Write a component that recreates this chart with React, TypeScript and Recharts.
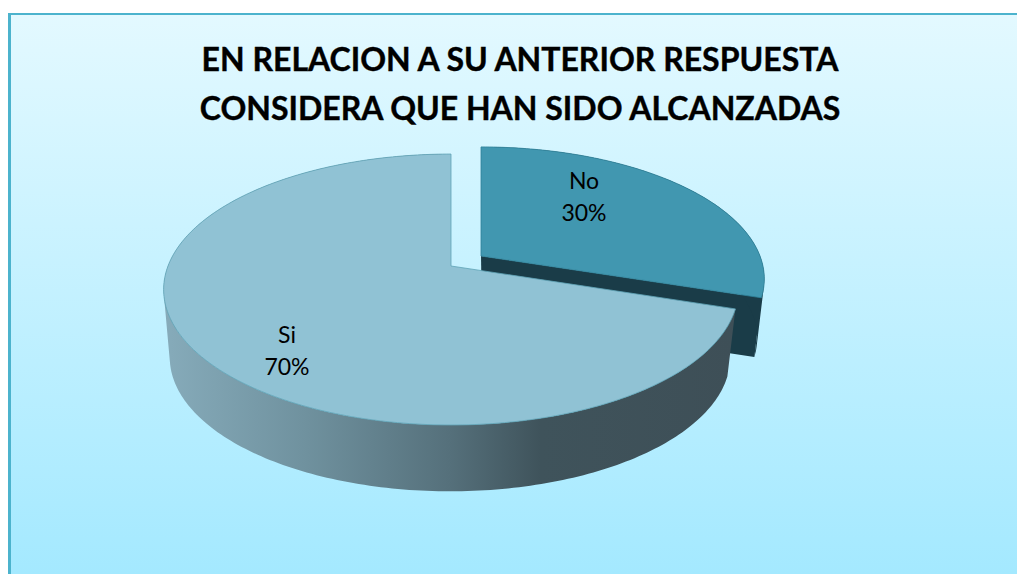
import { Pie, PieChart } from "recharts";

const categories = ["No", "Si"];
const shares = [30, 70];
const titleLines = ["EN RELACION A SU ANTERIOR RESPUESTA", "CONSIDERA QUE HAN SIDO ALCANZADAS"];

const data = categories.map((name, i) => ({ name, value: shares[i] }));

// tilt of the 3D pie: the far side of the disc is squeezed by this factor
const TILT = 0.1736;

// top face and bottom rim of each slice, as projected discs
const DISCS: Record<string, any> = {
  No: {
    top: { x: 481, y: 256, a: 128, b: 279 },
    low: { x: 482, y: 315.5, a: 127, b: 271 },
    face: "#4197b0",
    wall: "#1a3c48",
    edge: "#2f8199",
  },
  Si: {
    top: { x: 451, y: 266, a: 131.4, b: 283 },
    low: { x: 450, y: 334, a: 130, b: 276 },
    face: "#90c2d4",
    wall: "url(#wallShade)",
    edge: "#5fa3b6",
  },
};

const LABEL_SPOTS: Record<string, { x: number; y: number }> = {
  No: { x: 584, y: 189 },
  Si: { x: 287, y: 343 },
};

function project(disc: any, theta: number) {
  const rad = (theta * Math.PI) / 180;
  const w = 1 + TILT * Math.cos(rad);
  return [disc.x + (disc.b * Math.sin(rad)) / w, disc.y - (disc.a * Math.cos(rad)) / w];
}

// all quads wound the same way, or overlapping ones cancel out under nonzero fill
function quad(points: number[][]) {
  let area = 0;
  points.forEach((p, i) => {
    const q = points[(i + 1) % points.length];
    area += p[0] * q[1] - q[0] * p[1];
  });
  const pts = area < 0 ? [...points].reverse() : points;
  return `M${pts[0]}L${pts[1]}L${pts[2]}L${pts[3]}Z`;
}

function PieSlice3D(props: any) {
  const disc = DISCS[props.name];
  // recharts angles run counter-clockwise from 3 o'clock, the disc uses clockwise from 12
  const from = 90 - props.startAngle;
  const to = 90 - props.endAngle;

  const thetas: number[] = [];
  for (let t = from; t < to; t += 1) thetas.push(t);
  thetas.push(to);

  let wall = "";
  for (let i = 0; i < thetas.length - 1; i++) {
    wall += quad([
      project(disc.top, thetas[i]),
      project(disc.top, thetas[i + 1]),
      project(disc.low, thetas[i + 1]),
      project(disc.low, thetas[i]),
    ]);
  }

  const endTop = project(disc.top, to);
  const endLow = project(disc.low, to);
  const cut = `M${disc.top.x},${disc.top.y}L${endTop}L${endLow}L${disc.low.x},${disc.low.y}Z`;
  const face = `M${disc.top.x},${disc.top.y}` + thetas.map((t) => `L${project(disc.top, t)}`).join("") + "Z";

  return (
    <g>
      <path d={cut} fill={disc.wall} />
      <path d={wall} fill={disc.wall} />
      <path d={face} fill={disc.face} stroke={disc.edge} strokeWidth={0.8} />
    </g>
  );
}

function SliceLabel(props: any) {
  const spot = LABEL_SPOTS[props.name];
  return (
    <text x={spot.x} y={spot.y} textAnchor="middle" fill="#000" fontSize={23} fontFamily="Lato">
      <tspan x={spot.x}>{props.name}</tspan>
      <tspan x={spot.x} dy={32}>{`${Math.round(props.percent * 100)}%`}</tspan>
    </text>
  );
}

export default function App() {
  return (
    <div style={{ position: "absolute", left: 0, top: 0, width: 1017, height: 574, background: "#fff", overflow: "hidden" }}>
      <div
        style={{
          position: "absolute",
          left: 8,
          top: 13,
          right: 0,
          bottom: 0,
          borderLeft: "3px solid #4cb3cd",
          borderTop: "2px solid #4cb3cd",
          background: "linear-gradient(180deg, #e3f9ff 0%, #a4e9ff 100%)",
        }}
      />
      <div
        style={{
          position: "absolute",
          left: 0,
          top: 34,
          width: 1040,
          textAlign: "center",
          fontFamily: "Lato",
          fontWeight: 700,
          fontSize: 32,
          lineHeight: "49px",
          color: "#000",
          WebkitTextStroke: "0.4px #000",
        }}
      >
        {titleLines.map((line) => (
          <div key={line}>{line}</div>
        ))}
      </div>
      <div style={{ position: "absolute", left: 0, top: 0 }}>
        <PieChart width={1017} height={574} margin={{ top: 0, right: 0, bottom: 0, left: 0 }}>
          <defs>
            <linearGradient id="wallShade" gradientUnits="userSpaceOnUse" x1={165} y1={0} x2={735} y2={0}>
              <stop offset="0%" stopColor="#86abba" />
              <stop offset="25%" stopColor="#6f919e" />
              <stop offset="50%" stopColor="#55707b" />
              <stop offset="66%" stopColor="#3f535b" />
              <stop offset="100%" stopColor="#3e4f57" />
            </linearGradient>
          </defs>
          <Pie
            data={data}
            dataKey="value"
            nameKey="name"
            cx={451}
            cy={266}
            outerRadius={283}
            startAngle={90}
            endAngle={-270}
            stroke="none"
            shape={PieSlice3D}
            label={SliceLabel}
            labelLine={false}
            isAnimationActive={false}
          />
        </PieChart>
      </div>
    </div>
  );
}
